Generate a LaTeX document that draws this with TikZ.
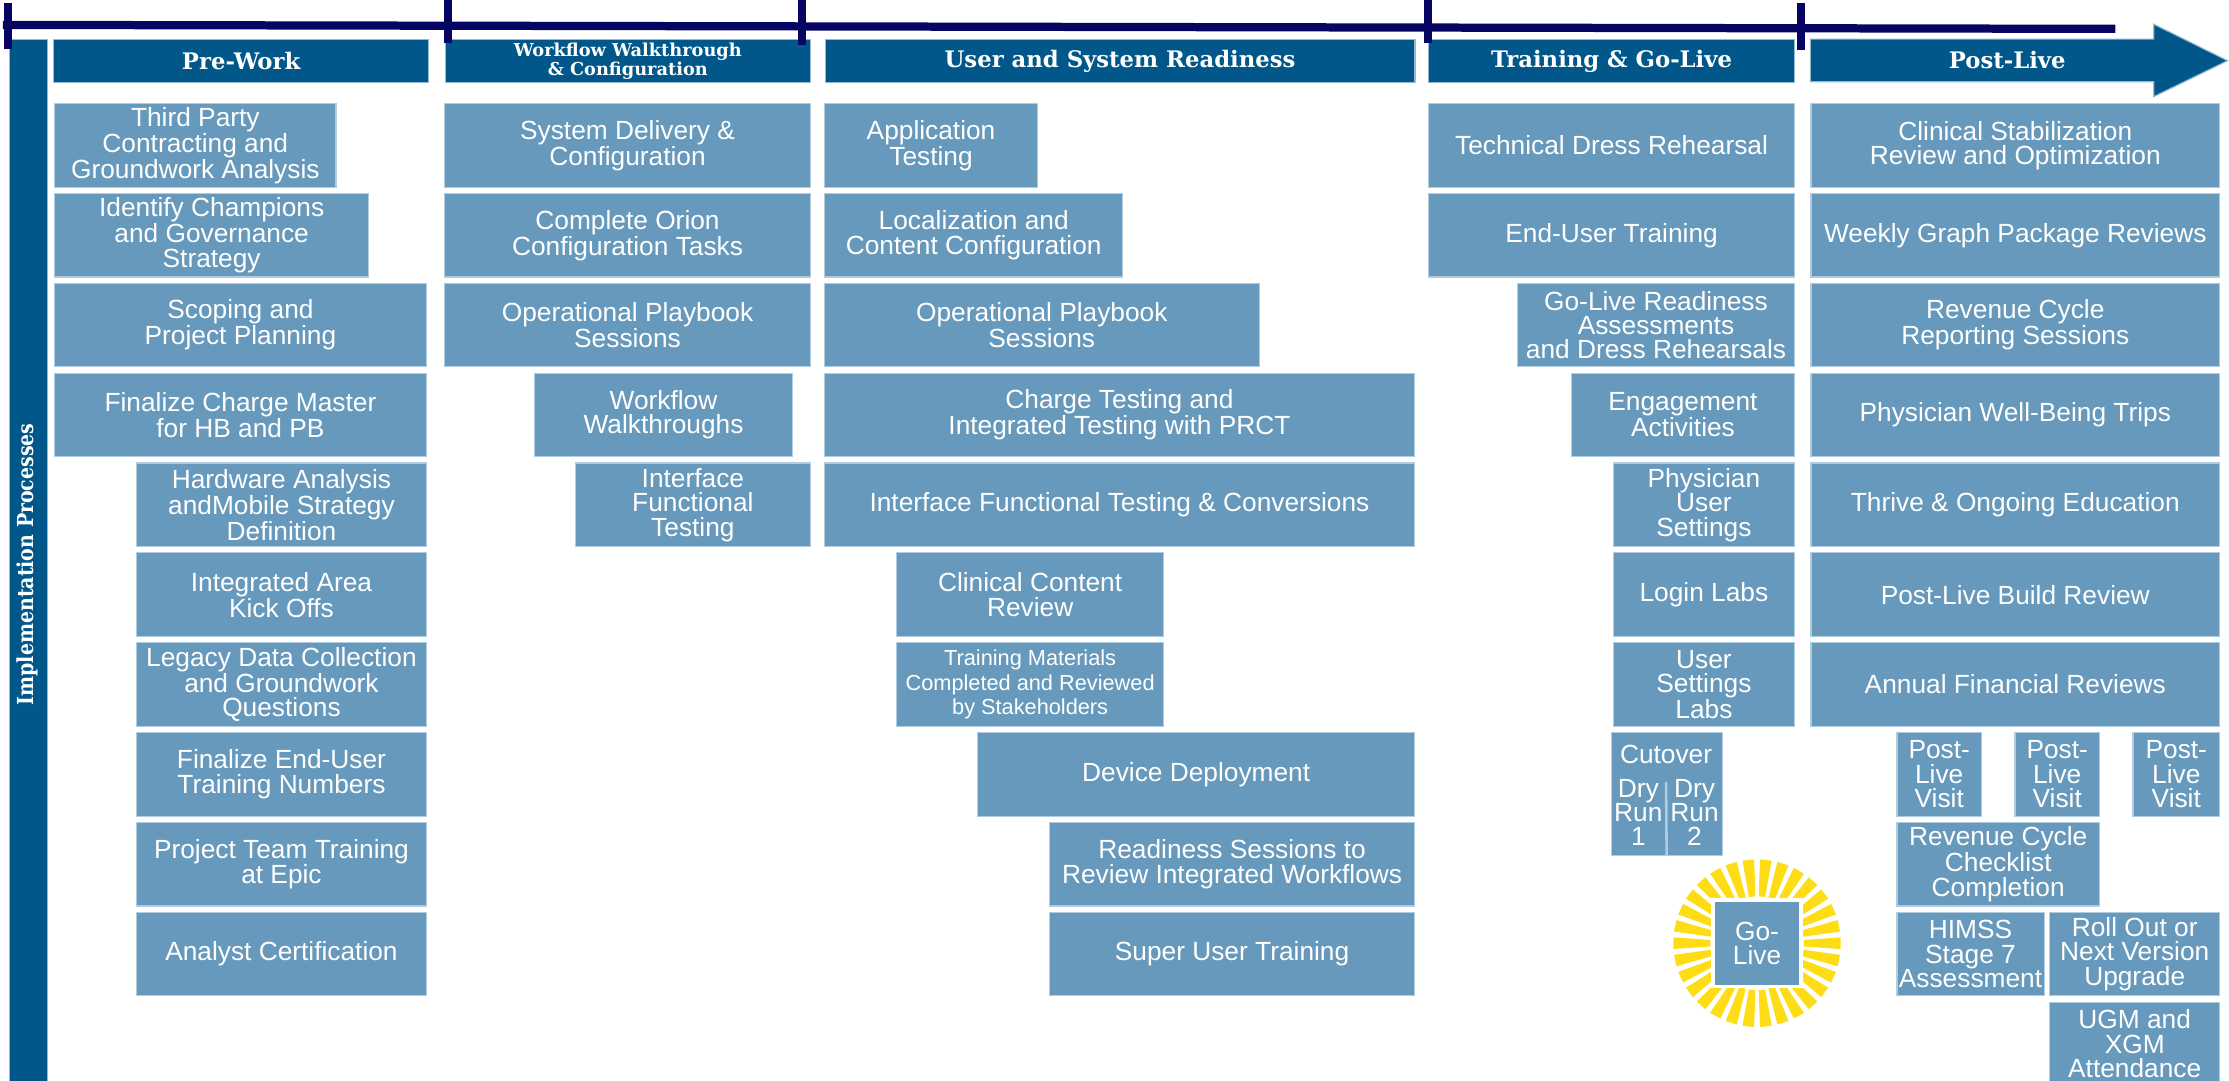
\documentclass[tikz,border=0pt]{standalone}
\usepackage{fontspec}
\setmainfont{Liberation Sans}
\newfontfamily\slab{DejaVu Serif}
\newfontfamily\slabc{DejaVu Serif}[FakeStretch=0.86]
\definecolor{hdr}{RGB}{1,87,137}
\definecolor{hdredge}{RGB}{150,185,210}
\definecolor{bx}{RGB}{102,153,187}
\definecolor{bxedge}{RGB}{175,204,224}
\definecolor{navy}{RGB}{6,6,98}
\definecolor{sunc}{RGB}{255,221,22}
\newcommand\boxtxt{\fontsize{18.5}{17.2}\selectfont}
\newcommand\smalltxt{\fontsize{15.3}{17.4}\selectfont}
\newcommand\hdrtxt{\slab\bfseries\fontsize{16}{16}\selectfont}
\newcommand\rbox[6][]{%
  \pgfmathsetmacro\rtop{72.5+63.2*#5}%
  \node[pbox, anchor=north west, minimum width={#4pt-#3pt}, minimum height=58.8pt, #1] (#2) at (#3,\rtop) {#6};}
\tikzset{
  pbox/.style={fill=bx, draw=bxedge, line width=0.8pt, text=white, align=center, inner sep=0pt, font=\boxtxt},
  hbox/.style={fill=hdr, draw=hdredge, line width=0.8pt, text=white, align=center, inner sep=0pt, font=\hdrtxt, anchor=north west, minimum height=30pt},
  tick/.style={navy, line width=5.5pt},
}
\begin{document}
\begin{tikzpicture}[x=1pt,y=-1pt]
\useasboundingbox (0,0) rectangle (1568,760.4);
% left vertical bar
\node[fill=hdr, draw=hdredge, line width=0.8pt, minimum width=27pt, minimum height=740pt, anchor=north west, inner sep=0pt] (bar) at (6,27.5) {};
\node[rotate=90, text=white, font=\slabc\bfseries\fontsize{15.5}{15.5}\selectfont] (impl) at (19.5,397) {Implementation Processes};
% headers
\node[hbox, minimum width=263.5pt] (hpre) at (37.5,27.5) {Pre-Work};
\node[hbox, minimum width=256.5pt, font=\slab\bfseries\fontsize{12.5}{11.5}\selectfont] (hwf) at (313,27.5) {Workflow Walkthrough\\\& Configuration};
\node[hbox, minimum width=415pt] (husr) at (580,27.5) {User and System Readiness};
\node[hbox, minimum width=257.5pt] (htrn) at (1004.5,27.5) {Training \& Go-Live};
\fill[hdr, draw=hdredge, line width=0.8pt] (1273.5,27.5) -- (1515,27.5) -- (1515,17) -- (1567,42.7) -- (1515,68) -- (1515,57.5) -- (1273.5,57.5) -- cycle;
\node[text=white, font=\hdrtxt] (hpost) at (1412,42.5) {Post-Live};
% timeline
\coordinate (tl0) at (2,17.5);
\coordinate (tl1) at (1488,20.3);
\draw[navy, line width=5.8pt] (tl0) -- (tl1);
\draw[tick] (5.5,2.3) -- (5.5,34.7);
\draw[tick] (315,0) -- (315,30);
\draw[tick] (564,0) -- (564,32);
\draw[tick] (1004.3,0) -- (1004.3,30);
\draw[tick] (1267,2.3) -- (1267,35.2);
% Pre-Work
\rbox{p1}{38}{236}{0}{Third Party\\Contracting and\\Groundwork Analysis}
\rbox{p2}{38}{259}{1}{Identify Champions\\and Governance\\Strategy}
\rbox{p3}{38}{299.5}{2}{Scoping and\\Project Planning}
\rbox{p4}{38}{299.5}{3}{Finalize Charge Master\\for HB and PB}
\rbox{p5}{95.7}{299.5}{4}{Hardware Analysis\\andMobile Strategy\\Definition}
\rbox{p6}{95.7}{299.5}{5}{Integrated Area\\Kick Offs}
\rbox{p7}{95.7}{299.5}{6}{Legacy Data Collection\\and Groundwork\\Questions}
\rbox{p8}{95.7}{299.5}{7}{Finalize End-User\\Training Numbers}
\rbox{p9}{95.7}{299.5}{8}{Project Team Training\\at Epic}
\rbox{p10}{95.7}{299.5}{9}{Analyst Certification}
% Workflow
\rbox{w1}{312.5}{569.6}{0}{System Delivery \&\\Configuration}
\rbox{w2}{312.5}{569.6}{1}{Complete Orion\\Configuration Tasks}
\rbox{w3}{312.5}{569.6}{2}{Operational Playbook\\Sessions}
\rbox{w4}{375.4}{557.3}{3}{Workflow\\Walkthroughs}
\rbox{w5}{404.4}{569.6}{4}{Interface\\Functional\\Testing}
% User and System Readiness
\rbox{u1}{579.6}{729.5}{0}{Application\\Testing}
\rbox{u2}{579.6}{789.5}{1}{Localization and\\Content Configuration}
\rbox{u3}{579.6}{885.3}{2}{Operational Playbook\\Sessions}
\rbox{u4}{579.6}{994.6}{3}{Charge Testing and\\Integrated Testing with PRCT}
\rbox{u5}{579.6}{994.6}{4}{Interface Functional Testing \& Conversions}
\rbox{u6}{630.5}{818}{5}{Clinical Content\\Review}
\rbox[font=\smalltxt]{u7}{630.5}{818}{6}{Training Materials\\Completed and Reviewed\\by Stakeholders}
\rbox{u8}{687.5}{994.6}{7}{Device Deployment}
\rbox{u9}{738}{994.6}{8}{Readiness Sessions to\\Review Integrated Workflows}
\rbox{u10}{738}{994.6}{9}{Super User Training}
% Training & Go-Live
\rbox{t1}{1004.5}{1262}{0}{Technical Dress Rehearsal}
\rbox{t2}{1004.5}{1262}{1}{End-User Training}
\rbox{t3}{1067}{1262}{2}{Go-Live Readiness\\Assessments\\and Dress Rehearsals}
\rbox{t4}{1105}{1262}{3}{Engagement\\Activities}
\rbox{t5}{1134.4}{1262}{4}{Physician\\User\\Settings}
\rbox{t6}{1134.4}{1262}{5}{Login Labs}
\rbox{t7}{1134.4}{1262}{6}{User\\Settings\\Labs}
\node[pbox, anchor=north west, minimum width=78pt, minimum height=86.5pt] (cut) at (1133,514.9) {};
\node[text=white, font=\boxtxt] (cutlbl) at (1172,531) {Cutover};
\node[text=white, font=\boxtxt, align=center] (dry1) at (1152.5,571.5) {Dry\\Run\\1};
\node[text=white, font=\boxtxt, align=center] (dry2) at (1192,571.5) {Dry\\Run\\2};
\coordinate (divtop) at (1172,550);
\draw[bxedge, line width=1.8pt] (divtop) -- (cut.south);
% Go-Live sun
\begin{scope}[shift={(1236,663.5)}]
\foreach \a in {0,12,...,348} {
  \fill[sunc] (\a-4:33) -- (\a-4:59) -- (\a+4:59) -- (\a+4:33) -- cycle;
}
\end{scope}
\node[pbox, draw=white, line width=2.4pt, minimum width=62pt, minimum height=61pt] (golive) at (1236,663.5) {Go-\\Live};
% Post-Live
\rbox{q1}{1273.5}{1561}{0}{Clinical Stabilization\\Review and Optimization}
\rbox{q2}{1273.5}{1561}{1}{Weekly Graph Package Reviews}
\rbox{q3}{1273.5}{1561}{2}{Revenue Cycle\\Reporting Sessions}
\rbox{q4}{1273.5}{1561}{3}{Physician Well-Being Trips}
\rbox{q5}{1273.5}{1561}{4}{Thrive \& Ongoing Education}
\rbox{q6}{1273.5}{1561}{5}{Post-Live Build Review}
\rbox{q7}{1273.5}{1561}{6}{Annual Financial Reviews}
\rbox{v1}{1334}{1393.5}{7}{Post-\\Live\\Visit}
\rbox{v2}{1417}{1476.5}{7}{Post-\\Live\\Visit}
\rbox{v3}{1500}{1561}{7}{Post-\\Live\\Visit}
\rbox{q8}{1334}{1476.5}{8}{Revenue Cycle\\Checklist\\Completion}
\rbox{q9}{1334}{1437.5}{9}{HIMSS\\Stage 7\\Assessment}
\rbox{q10}{1441.5}{1561}{9}{Roll Out or\\Next Version\\Upgrade}
\rbox{q11}{1441.5}{1561}{10}{UGM and\\XGM\\Attendance}
\end{tikzpicture}
\end{document}
